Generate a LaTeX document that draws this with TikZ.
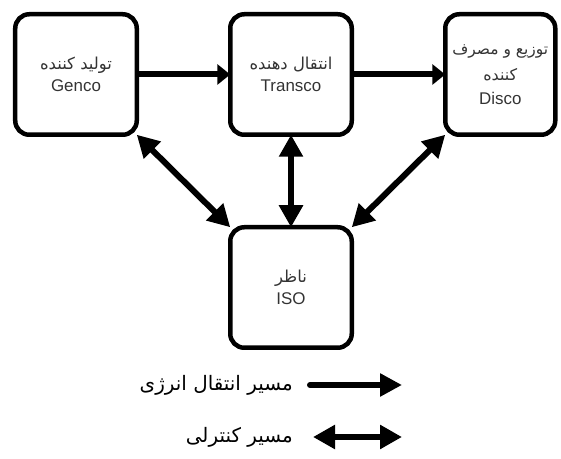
\documentclass[tikz,border=0pt]{standalone}
\usepackage{fontspec}
\setmainfont{Liberation Sans}
\newfontfamily\arabicfont[Script=Arabic]{DejaVu Sans}
\TeXXeTstate=1
\usetikzlibrary{arrows.meta, positioning}
\newcommand{\fa}[1]{{\arabicfont\beginR #1\endR}}

\begin{document}
\begin{tikzpicture}[
   x=1bp, y=1bp,
   node distance=92.5bp and 93.5bp,
   box/.style={draw, line width=4.5bp, rounded corners=14bp, align=center,
               minimum width=121.5bp, minimum height=120.5bp, outer sep=0pt,
               text=black!80, font=\fontsize{17}{22}\selectfont},
   flow/.style={-{Triangle[length=13bp, width=20bp]}, line width=6bp},
   ctrl/.style={{Triangle[length=22bp, width=23bp]}-{Triangle[length=22bp, width=23bp]},
                line width=6bp},
   legtext/.style={font=\fontsize{20}{24}\selectfont, anchor=east, inner sep=0pt}]

  \useasboundingbox (0,0) rectangle (561,459);

  \node[box] (genco) at (76,384.5)
     {{\fontsize{16.5}{18}\selectfont\fa{تولید کننده}}\\[0bp]Genco};
  \node[box, right=of genco] (transco)
     {{\fontsize{16.5}{18}\selectfont\fa{انتقال دهنده}}\\[0bp]Transco};
  \node[box, right=of transco, minimum width=110bp] (disco)
     {{\fontsize{15.5}{17}\selectfont\fa{توزیع و مصرف}}\\[4bp]{\fontsize{16}{17}\selectfont\fa{کننده}}\\[2bp]Disco};
  \node[box, below=of transco] (iso)
     {{\fontsize{16.5}{18}\selectfont\fa{ناظر}}\\[0bp]ISO};

  \draw[flow] (genco) -- (transco);
  \draw[flow] (transco) -- (disco);
  \draw[ctrl] (genco.south east) -- (iso.north west);
  \draw[ctrl] (transco) -- (iso);
  \draw[ctrl] (disco.south west) -- (iso.north east);

  % legend
  \node[legtext] (energy) at (293,74) {\fa{مسیر انتقال انرژی}};
  \coordinate[right=17bp of energy] (e1);
  \coordinate[right=109bp of energy] (e2);
  \draw[line width=6bp, line cap=round, -{Triangle[length=22bp, width=22bp]}] (e1) -- (e2);

  \node[legtext] (control) at (293,22) {\fa{مسیر کنترلی}};
  \coordinate[right=20bp of control] (c1);
  \coordinate[right=109bp of control] (c2);
  \draw[ctrl] (c1) -- (c2);
\end{tikzpicture}
\end{document}
